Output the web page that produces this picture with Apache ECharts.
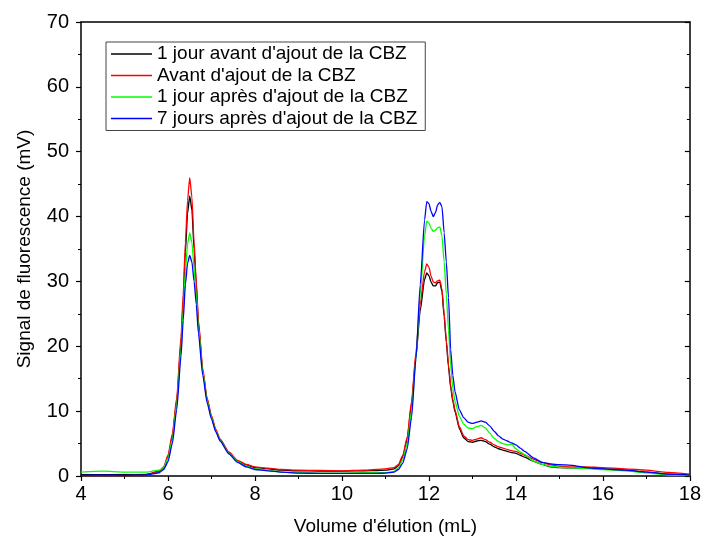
<!DOCTYPE html>
<html>
<head>
<meta charset="utf-8">
<script src="https://cdn.jsdelivr.net/npm/echarts@6/dist/echarts.min.js"></script>
<style>html,body{margin:0;padding:0;background:#fff}#c{width:704px;height:543px}</style>
</head>
<body>
<div id="c"></div>
<script>
var seriesNames = ["1 jour avant d'ajout de la CBZ", "Avant d'ajout de la CBZ", "1 jour après d'ajout de la CBZ", "7 jours après d'ajout de la CBZ"];
var xTickLabels = [4, 6, 8, 10, 12, 14, 16, 18];
var yTickLabels = [0, 10, 20, 30, 40, 50, 60, 70];
var xName = "Volume d'élution (mL)";
var yName = "Signal de fluorescence (mV)";

var volume = [4.0,4.5,5.0,5.5,5.8,5.9,6.0,6.1,6.2,6.3,6.35,6.4,6.45,6.5,6.55,6.6,6.65,6.7,6.8,6.9,7.0,7.1,7.2,7.4,7.6,7.8,8.0,8.3,8.6,9.0,9.5,10.0,10.5,10.8,11.0,11.2,11.3,11.4,11.5,11.6,11.7,11.8,11.9,11.95,12.0,12.05,12.1,12.15,12.2,12.25,12.3,12.35,12.4,12.45,12.5,12.55,12.6,12.7,12.8,12.9,13.0,13.1,13.2,13.3,13.4,13.5,13.6,13.7,13.8,13.9,14.0,14.1,14.2,14.4,14.6,14.8,15.0,15.3,15.6,16.0,16.5,17.0,17.5,18.0];

var blackVals = [0.2,0.2,0.2,0.25,0.7,1.2,2.9,6.0,11.5,20.5,27,34.5,40.5,43.2,41,35,29.5,23.5,16.2,11.8,9.1,7.0,5.6,3.6,2.3,1.7,1.3,1.1,0.9,0.8,0.75,0.75,0.8,0.85,0.9,1.1,1.6,3.0,5.7,11,18.3,25.5,30.3,31.3,30.9,29.9,29.3,29.3,29.8,29.9,28.4,24.6,20.6,16.8,13.6,11.5,9.9,7.3,5.9,5.3,5.2,5.4,5.5,5.3,4.9,4.5,4.2,4.0,3.8,3.6,3.5,3.2,2.9,2.3,1.8,1.4,1.3,1.25,1.2,1.1,0.9,0.6,0.3,0.15];

var redVals = [0.05,0.05,0.05,0.1,0.8,1.4,3.2,6.5,12,21.5,28,36,42.5,46,43,36,30,24,16.5,12,9.3,7.2,5.7,3.7,2.4,1.8,1.4,1.2,1.0,0.9,0.85,0.8,0.9,1.0,1.1,1.3,1.8,3.2,6,11.5,19,26.5,31.5,32.7,32.2,30.8,29.9,29.8,30.1,30.2,28.8,25,21,17.2,14,11.8,10.2,7.6,6.2,5.6,5.5,5.7,5.9,5.6,5.2,4.8,4.5,4.3,4.1,3.9,3.8,3.5,3.2,2.6,2.1,1.7,1.5,1.4,1.4,1.3,1.1,0.9,0.55,0.3];

var greenVals = [0.6,0.75,0.6,0.6,0.9,1.3,2.7,5.6,11,19.5,25.5,31.5,35.8,37.5,36,32,27.8,22.8,16,11.6,9.0,6.9,5.5,3.5,2.2,1.5,1.1,0.9,0.6,0.5,0.45,0.45,0.5,0.5,0.5,0.7,1.3,2.5,5,10,18,28,37,39.3,39,38.2,37.7,37.9,38.3,38.4,37,33,28,22.5,17,13.5,11.5,9.2,8.0,7.4,7.3,7.6,7.8,7.4,6.6,5.8,5.3,5.0,4.8,4.9,4.2,3.7,3.3,2.3,1.8,1.5,1.35,1.25,1.15,1.0,0.8,0.5,0.15,0.05];

var blueVals = [0.1,0.15,0.1,0.15,0.5,1.0,2.2,5.0,10.2,18.5,24,29.5,32.8,34,33,30,26.5,22,15.5,11.3,8.8,6.8,5.4,3.4,2.1,1.4,1.0,0.8,0.6,0.45,0.4,0.4,0.4,0.4,0.45,0.6,1.0,2.0,4.2,9,18,29.5,39.5,42.3,42.0,40.8,40.0,40.6,41.8,42.2,41.5,37.5,33,27.5,19.5,15.5,13,10.2,9.0,8.3,8.1,8.3,8.5,8.3,7.7,6.9,6.2,5.7,5.4,5.1,4.8,4.3,3.8,2.8,2.1,1.85,1.75,1.65,1.3,1.1,0.9,0.6,0.3,0.15];

var colors = ['#000000', '#ff0000', '#00ff00', '#0000ff'];
var valueSets = [blackVals, redVals, greenVals, blueVals];

function pairs(xs, ys) { return xs.map(function (x, i) { return [x, ys[i]]; }); }

var FONT = "'Liberation Sans', Arial, sans-serif";
var chart = echarts.init(document.getElementById('c'), null, { renderer: 'canvas' });

var xMin = xTickLabels[0], xMax = xTickLabels[xTickLabels.length - 1];
var yMin = yTickLabels[0], yMax = yTickLabels[yTickLabels.length - 1];

chart.setOption({
  animation: false,
  backgroundColor: '#ffffff',
  grid: { left: 81, right: 11, top: 22, bottom: 67, containLabel: false },
  legend: {
    orient: 'vertical',
    left: 106, top: 42,
    data: seriesNames,
    icon: 'rect',
    itemWidth: 41, itemHeight: 1.5, itemGap: 1.5,
    padding: [2, 8, 2, 5],
    backgroundColor: '#ffffff',
    borderColor: '#444', borderWidth: 1, borderRadius: 0,
    selectedMode: false,
    textStyle: { fontFamily: FONT, fontSize: 19, color: '#000', lineHeight: 20 }
  },
  xAxis: [{
    type: 'value', min: xMin, max: xMax, interval: 2,
    name: xName, nameLocation: 'middle', nameGap: 41,
    nameTextStyle: { fontFamily: FONT, fontSize: 19, color: '#000' },
    axisLine: { show: true, onZero: false, lineStyle: { color: '#000', width: 1.5 } },
    axisTick: { show: true, inside: false, length: 5, lineStyle: { color: '#000', width: 1.2 } },
    minorTick: { show: true, splitNumber: 2, length: 3, lineStyle: { color: '#000', width: 1 } },
    axisLabel: { fontFamily: FONT, fontSize: 20, color: '#000', margin: 8 },
    splitLine: { show: false }
  }, {
    type: 'value', min: xMin, max: xMax, interval: 2, position: 'top',
    axisLine: { show: true, onZero: false, lineStyle: { color: '#000', width: 1.5 } },
    axisTick: { show: false }, axisLabel: { show: false }, splitLine: { show: false }
  }],
  yAxis: [{
    type: 'value', min: yMin, max: yMax, interval: 10,
    name: yName, nameLocation: 'middle', nameGap: 47, nameRotate: 90,
    nameTextStyle: { fontFamily: FONT, fontSize: 19, color: '#000' },
    axisLine: { show: true, onZero: false, lineStyle: { color: '#000', width: 1.5 } },
    axisTick: { show: true, inside: false, length: 5, lineStyle: { color: '#000', width: 1.2 } },
    minorTick: { show: true, splitNumber: 2, length: 3, lineStyle: { color: '#000', width: 1 } },
    axisLabel: { fontFamily: FONT, fontSize: 20, color: '#000', margin: 12 },
    splitLine: { show: false }
  }, {
    type: 'value', min: yMin, max: yMax, interval: 10, position: 'right',
    axisLine: { show: true, onZero: false, lineStyle: { color: '#000', width: 1.5 } },
    axisTick: { show: true, inside: true, length: 5, lineStyle: { color: '#000', width: 1.2 } },
    minorTick: { show: true, splitNumber: 2, length: 3, lineStyle: { color: '#000', width: 1 } },
    axisLabel: { show: false }, splitLine: { show: false }
  }],
  series: seriesNames.map(function (name, i) {
    return {
      name: name, type: 'line', xAxisIndex: 0, yAxisIndex: 0,
      data: pairs(volume, valueSets[i]),
      showSymbol: false, symbol: 'none',
      smooth: 0.2, smoothMonotone: 'x',
      color: colors[i],
      lineStyle: { color: colors[i], width: 1.3 },
      z: 2 + i
    };
  })
});
</script>
</body>
</html>
